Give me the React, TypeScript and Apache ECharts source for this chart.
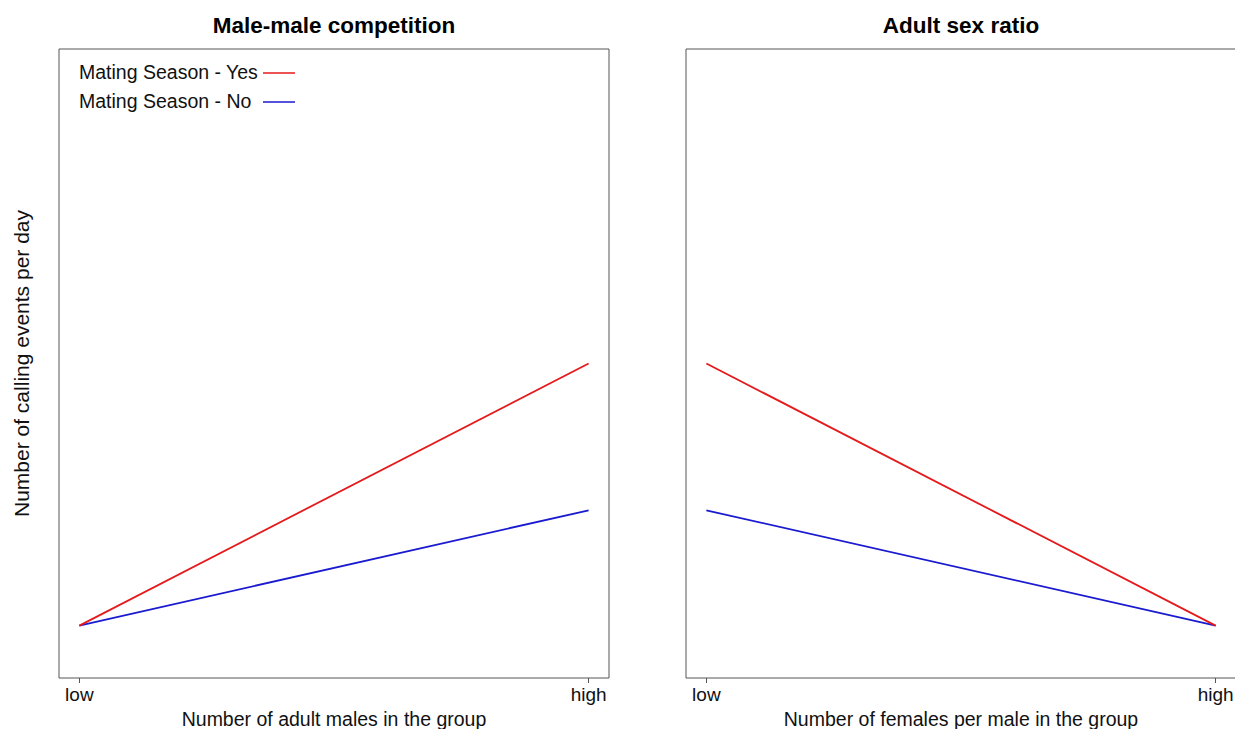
import React, { useEffect, useRef } from "react";
import * as echarts from "echarts";

// Predictor levels on the x axes
const levels = ["low", "high"];
const levelPos = [0, 1];

// Predicted calling events per day
const maleCompYes = [0.5, 3.0];
const maleCompNo = [0.5, 1.6];
const sexRatioYes = [3.0, 0.5];
const sexRatioNo = [1.6, 0.5];

const panelTitles = ["Male-male competition", "Adult sex ratio"];
const xNames = ["Number of adult males in the group", "Number of females per male in the group"];
const yName = "Number of calling events per day";
const seriesNames = ["Mating Season - Yes", "Mating Season - No"];

const RED = "#e41a1c";
const BLUE = "#1a1ad0";
const FONT = 'Arial, "Liberation Sans", sans-serif';

const toPoints = (vals: number[]) => vals.map((v, i) => [levelPos[i], v]);

export default function App() {
  const ref = useRef<HTMLDivElement>(null);

  useEffect(() => {
    document.body.style.margin = "0";
    if (!ref.current) return;
    const chart = echarts.init(ref.current, null, { renderer: "svg" });

    const grids = [
      { left: 59, top: 49, width: 550, height: 629 },
      { left: 686, top: 49, width: 550, height: 629 },
    ];

    const xAxis = [0, 1].map((g) => ({
      type: "value" as const,
      gridIndex: g,
      min: -0.04,
      max: 1.04,
      splitLine: { show: false },
      axisLine: { show: false },
      axisTick: { show: true, inside: false, length: 5, customValues: levelPos, lineStyle: { color: "#555", width: 1 } },
      axisLabel: {
        show: true,
        customValues: levelPos,
        margin: 7,
        fontSize: 19,
        fontFamily: FONT,
        color: "#111",
        formatter: (v: number) => levels[levelPos.indexOf(Math.round(v))] ?? "",
      },
      name: xNames[g],
      nameLocation: "middle" as const,
      nameGap: 31,
      nameTextStyle: { fontSize: 19.5, fontFamily: FONT, color: "#111" },
    }));

    const yAxis = [0, 1].map((g) => ({
      type: "value" as const,
      gridIndex: g,
      min: 0,
      max: 6,
      splitLine: { show: false },
      axisLine: { show: false },
      axisTick: { show: false },
      axisLabel: { show: false },
      name: g === 0 ? yName : "",
      nameLocation: "middle" as const,
      nameGap: 27,
      nameRotate: 90,
      nameTextStyle: { fontSize: 21, fontFamily: FONT, color: "#111" },
    }));

    const mkSeries = (name: string, data: number[], idx: number, color: string) => ({
      type: "line" as const,
      name,
      xAxisIndex: idx,
      yAxisIndex: idx,
      data: toPoints(data),
      showSymbol: false,
      symbol: "none",
      lineStyle: { color, width: 1.8 },
      itemStyle: { color },
    });

    const legendRows = [
      { name: seriesNames[0], color: RED, y: 72 },
      { name: seriesNames[1], color: BLUE, y: 101 },
    ];

    chart.setOption({
      animation: false,
      backgroundColor: "#fff",
      grid: grids.map((g) => ({
        ...g,
        outerBoundsMode: "none",
        containLabel: false,
        show: true,
        borderColor: "#555",
        borderWidth: 1,
        backgroundColor: "transparent",
      })),
      xAxis,
      yAxis,
      series: [
        mkSeries(seriesNames[1], maleCompNo, 0, BLUE),
        mkSeries(seriesNames[0], maleCompYes, 0, RED),
        mkSeries(seriesNames[1], sexRatioNo, 1, BLUE),
        mkSeries(seriesNames[0], sexRatioYes, 1, RED),
      ],
      graphic: [
        ...panelTitles.map((t, i) => ({
          type: "text",
          x: i === 0 ? 334 : 961,
          y: 25,
          style: {
            text: t,
            fontSize: 22.5,
            fontWeight: "bold",
            fontFamily: FONT,
            fill: "#000",
            align: "center",
            verticalAlign: "middle",
          },
        })),
        ...legendRows.flatMap((r) => [
          {
            type: "text",
            x: 79,
            y: r.y,
            style: { text: r.name, fontSize: 19.5, fontFamily: FONT, fill: "#111", align: "left", verticalAlign: "middle" },
          },
          {
            type: "line",
            shape: { x1: 263, y1: r.y + 1, x2: 295, y2: r.y + 1 },
            style: { stroke: r.color, lineWidth: 1.5 },
          },
        ]),
      ],
    });

    return () => chart.dispose();
  }, []);

  return <div ref={ref} style={{ width: 1235, height: 729 }} />;
}
